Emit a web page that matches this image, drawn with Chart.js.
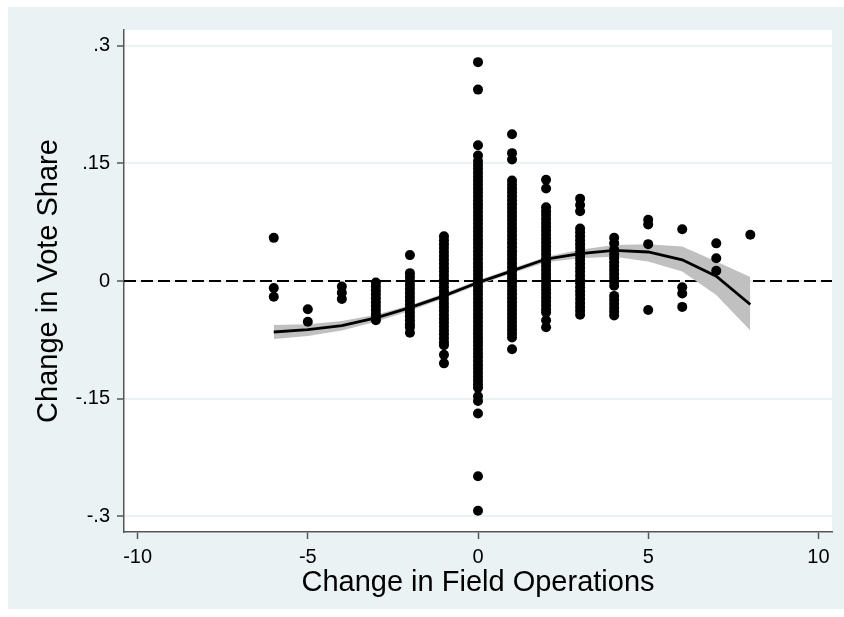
<!DOCTYPE html>
<html>
<head>
<meta charset="utf-8">
<script src="https://cdn.jsdelivr.net/npm/chart.js@4.4.1/dist/chart.umd.min.js"></script>
<style>
    html, body { margin: 0; padding: 0; background: #fff; }
    #wrap { width: 844px; height: 617px; }
</style>
</head>
<body>
<div id="wrap"><canvas id="scatterChart" width="844" height="617"></canvas></div>
<script>
// x categories (change in field operations) and the vote share changes read at each
const xCats = [-6, -5, -4, -3, -2, -1, 0, 1, 2, 3, 4, 5, 6, 7, 8];

const colM6 = [0.055, -0.009, -0.020];
const colM5 = [-0.036, -0.052];
const colM4 = [-0.007, -0.015, -0.023];
const colM3 = [-0.002, -0.007, -0.012, -0.017, -0.022, -0.027, -0.032, -0.037, -0.042, -0.047, -0.050];
const colM2 = [0.033, 0.010, 0.005, 0.000, -0.005, -0.010, -0.015, -0.020, -0.025, -0.030, -0.035, -0.040,
    -0.045, -0.050, -0.055, -0.059, -0.066];
const colM1 = [0.057, 0.052, 0.047, 0.042, 0.037, 0.032, 0.027, 0.022, 0.017, 0.012, 0.007, 0.002, -0.003,
    -0.008, -0.013, -0.018, -0.023, -0.028, -0.033, -0.038, -0.043, -0.048, -0.053, -0.058, -0.063,
    -0.068, -0.073, -0.078, -0.082, -0.094, -0.105];
const col0 = [0.279, 0.244, 0.173, 0.160, 0.153, 0.148, 0.143, 0.138, 0.133, 0.128, 0.123, 0.118, 0.113,
    0.108, 0.103, 0.098, 0.093, 0.088, 0.083, 0.078, 0.073, 0.068, 0.063, 0.058, 0.053, 0.048, 0.043,
    0.038, 0.033, 0.028, 0.023, 0.018, 0.013, 0.008, 0.003, -0.002, -0.007, -0.012, -0.017, -0.022,
    -0.027, -0.032, -0.037, -0.042, -0.047, -0.052, -0.057, -0.062, -0.067, -0.072, -0.077, -0.082,
    -0.087, -0.092, -0.097, -0.102, -0.107, -0.112, -0.117, -0.122, -0.127, -0.132, -0.136, -0.147,
    -0.153, -0.169, -0.249, -0.293];
const col1 = [0.187, 0.163, 0.155, 0.128, 0.123, 0.118, 0.113, 0.108, 0.103, 0.098, 0.093, 0.088, 0.083,
    0.078, 0.073, 0.068, 0.063, 0.058, 0.053, 0.048, 0.043, 0.038, 0.033, 0.028, 0.023, 0.018, 0.013,
    0.008, 0.003, -0.002, -0.007, -0.012, -0.017, -0.022, -0.027, -0.032, -0.037, -0.042, -0.047,
    -0.052, -0.057, -0.062, -0.067, -0.072, -0.087];
const col2 = [0.129, 0.118, 0.094, 0.089, 0.084, 0.079, 0.074, 0.069, 0.064, 0.059, 0.054, 0.049, 0.044,
    0.039, 0.034, 0.029, 0.024, 0.019, 0.014, 0.009, 0.004, -0.001, -0.006, -0.011, -0.016, -0.021,
    -0.026, -0.031, -0.036, -0.040, -0.050, -0.059];
const col3 = [0.105, 0.097, 0.089, 0.067, 0.062, 0.057, 0.052, 0.047, 0.042, 0.037, 0.032, 0.027, 0.022,
    0.017, 0.012, 0.007, 0.002, -0.003, -0.008, -0.013, -0.018, -0.023, -0.028, -0.033, -0.038, -0.043];
const col4 = [0.055, 0.048, 0.040, 0.034, 0.029, 0.024, 0.019, 0.014, 0.009, 0.004, -0.001, -0.006,
    -0.019, -0.024, -0.029, -0.034, -0.039, -0.044];
const col5 = [0.078, 0.072, 0.047, -0.037];
const col6 = [0.066, -0.008, -0.016, -0.033];
const col7 = [0.048, 0.029, 0.013];
const col8 = [0.059];

const columns = [colM6, colM5, colM4, colM3, colM2, colM1, col0, col1, col2, col3, col4, col5, col6, col7, col8];

// local polynomial fit and its confidence band
const fitLine = [-0.065, -0.062, -0.057, -0.047, -0.034, -0.019, -0.002, 0.013, 0.028, 0.035, 0.039, 0.037, 0.027, 0.006, -0.030];
const ciUpper = [-0.056, -0.055, -0.051, -0.043, -0.031, -0.016, 0.001, 0.016, 0.031, 0.040, 0.046, 0.047, 0.044, 0.025, 0.005];
const ciLower = [-0.074, -0.070, -0.063, -0.052, -0.038, -0.022, -0.005, 0.010, 0.024, 0.029, 0.031, 0.025, 0.012, -0.018, -0.063];

const xTicks = [-10, -5, 0, 5, 10];
const xTickLabels = ['-10', '-5', '0', '5', '10'];
const yTicks = [-0.3, -0.15, 0, 0.15, 0.3];
const yTickLabels = ['-.3', '-.15', '0', '.15', '.3'];

const FONT = "'Liberation Sans', Arial, sans-serif";

const scatterPoints = [];
columns.forEach((col, i) => {
    col.forEach(v => scatterPoints.push({ x: xCats[i], y: v }));
});

const backgroundPlugin = {
    id: 'stataBackground',
    beforeDraw(chart) {
        const ctx = chart.ctx;
        const area = chart.chartArea;
        ctx.save();
        ctx.fillStyle = '#ffffff';
        ctx.fillRect(0, 0, chart.width, chart.height);
        ctx.fillStyle = '#eaf2f3';
        ctx.fillRect(8, 7, chart.width - 8, 602);
        ctx.fillStyle = '#ffffff';
        ctx.fillRect(area.left, area.top, area.right - area.left, area.bottom - area.top);
        ctx.restore();
    }
};

const ctx = document.getElementById('scatterChart').getContext('2d');
const chartInstance = new Chart(ctx, {
    type: 'scatter',
    data: {
        datasets: [
            {
                type: 'line',
                label: 'fit',
                data: xCats.map((x, i) => ({ x: x, y: fitLine[i] })),
                borderColor: '#000',
                borderWidth: 2.8,
                pointRadius: 0,
                fill: false,
                order: 0
            },
            {
                type: 'scatter',
                label: 'obs',
                data: scatterPoints,
                backgroundColor: '#000',
                borderWidth: 0,
                pointRadius: 5,
                order: 1
            },
            {
                type: 'line',
                label: 'upper',
                data: xCats.map((x, i) => ({ x: x, y: ciUpper[i] })),
                borderWidth: 0,
                borderColor: 'rgba(0,0,0,0)',
                backgroundColor: '#c0c0c0',
                pointRadius: 0,
                fill: '+1',
                order: 2
            },
            {
                type: 'line',
                label: 'lower',
                data: xCats.map((x, i) => ({ x: x, y: ciLower[i] })),
                borderWidth: 0,
                borderColor: 'rgba(0,0,0,0)',
                pointRadius: 0,
                fill: false,
                order: 3
            },
            {
                type: 'line',
                label: 'zero',
                data: [{ x: -10.4, y: 0 }, { x: 10.4, y: 0 }],
                borderColor: '#000',
                borderWidth: 2,
                borderDash: [12, 5],
                pointRadius: 0,
                fill: false,
                order: 4
            }
        ]
    },
    options: {
        responsive: false,
        animation: false,
        layout: { padding: { left: 8, top: 30, right: 12, bottom: 0 } },
        plugins: {
            legend: { display: false },
            tooltip: { enabled: false }
        },
        scales: {
            x: {
                type: 'linear',
                min: -10.4,
                max: 10.4,
                afterBuildTicks: s => { s.ticks = xTicks.map(v => ({ value: v })); },
                afterFit: s => { s.height = 85; },
                ticks: {
                    callback: v => xTickLabels[xTicks.indexOf(v)],
                    color: '#000',
                    font: { family: FONT, size: 20 },
                    padding: 6,
                    maxRotation: 0
                },
                grid: {
                    drawOnChartArea: false,
                    drawTicks: true,
                    tickLength: 7,
                    tickColor: '#555',
                    tickWidth: 1.5
                },
                border: { color: '#555', width: 1.5 },
                title: {
                    display: true,
                    text: 'Change in Field Operations',
                    color: '#000',
                    font: { family: FONT, size: 29 },
                    padding: { top: 0, bottom: 17 }
                }
            },
            y: {
                min: -0.32,
                max: 0.32,
                afterBuildTicks: s => { s.ticks = yTicks.map(v => ({ value: v })); },
                afterFit: s => { s.width = 116; },
                ticks: {
                    callback: v => yTickLabels[yTicks.indexOf(v)],
                    color: '#000',
                    font: { family: FONT, size: 20 },
                    padding: 7
                },
                grid: {
                    color: '#eaf2f3',
                    lineWidth: 2,
                    drawTicks: true,
                    tickLength: 7,
                    tickColor: '#555',
                    tickWidth: 1.5
                },
                border: { color: '#555', width: 1.5 },
                title: {
                    display: true,
                    text: 'Change in Vote Share',
                    color: '#000',
                    font: { family: FONT, size: 29 },
                    padding: { top: 24, bottom: 0 }
                }
            }
        }
    },
    plugins: [backgroundPlugin]
});
</script>
</body>
</html>
